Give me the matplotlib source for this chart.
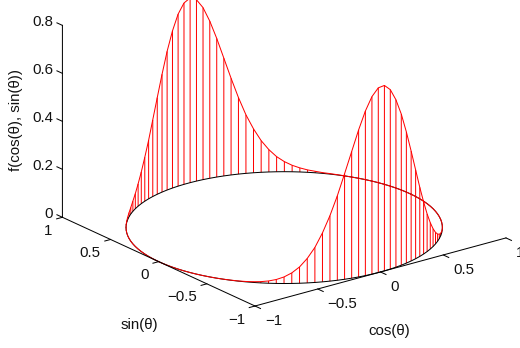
import matplotlib
matplotlib.use("Agg")
import numpy as np
import matplotlib.pyplot as plt
from mpl_toolkits.mplot3d import proj3d

plt.rcParams['font.family'] = ['Liberation Sans', 'DejaVu Sans']

# Heights, one per stem, going once round the circle
z_values = [
 0,0,0,0,0,0,0,0,0,0,0,
 .0005,.001,.002,.003,.006,.010,.017,.027,.042,.063,.093,.132,.183,.244,.319,.403,.491,.578,.655,.717,.756,
 .770,
 .756,.717,.655,.578,.491,.403,.319,.244,.183,.132,.093,.063,.042,.027,.017,.010,.006,.003,.002,.001,.0005,
 0,0,0,0,0,0,0,0,0,0,0,
 0,0,0,0,0,0,0,0,0,0,
 .0002,.0004,.0007,.0015,.0029,.0053,.0095,.0164,.0274,.044,.068,.102,.146,.204,.273,.352,.440,.528,.613,.686,.740,.770,
 .773,.748,.698,.630,.547,.458,.370,.288,.217,.157,.110,.074,.048,.030,.018,.011,.006,.003,.0017,.0008,.0004,.0002,
 0,0,0,0,0,0,0,0,0,0,
]
theta_start_deg = -1
cos_ticks = [-1, -0.5, 0, 0.5, 1]
sin_ticks = [-1, -0.5, 0, 0.5, 1]
z_ticks = [0, 0.2, 0.4, 0.6, 0.8]
cos_labels = ['\u22121', '\u22120.5', '0', '0.5', '1']
sin_labels = ['\u22121', '\u22120.5', '0', '0.5', '1']
z_labels = ['0', '0.2', '0.4', '0.6', '0.8']

W, H = 520, 348
z_arr = np.array(z_values)
theta = np.radians(theta_start_deg) + np.linspace(0, 2 * np.pi, len(z_arr))
xs, ys = np.cos(theta), np.sin(theta)

fig = plt.figure(figsize=(W / 100, H / 100), dpi=100)
ax = fig.add_axes([-0.1, -0.3, 1.2, 1.6], projection='3d')
ax.set_proj_type('ortho')
ax.view_init(elev=20.7, azim=-127.5)
ax.computed_zorder = False
aspect = (316.6, 316.6, 205.3)
ax.set_box_aspect(aspect)
ax.set_xlim(-1, 1); ax.set_ylim(-1, 1); ax.set_zlim(0, 0.8)
ax.set_axis_off()
ax.patch.set_alpha(0)


def to_px(c, s, z):
    x2, y2, _ = proj3d.proj_transform(c, s, z, ax.get_proj())
    return ax.transData.transform((x2, y2))

# scale and shift the axes so the corner (-1,-1,0) and the cos axis land as in the reference
fig.canvas.draw()
a, b = to_px(-1, -1, 0), to_px(1, -1, 0)
ax.set_box_aspect(aspect, zoom=260.05 / np.hypot(*(b - a)))
fig.canvas.draw()
a = to_px(-1, -1, 0)
pos = ax.get_position()
ax.set_position([pos.x0 + (255 - a[0]) / W, pos.y0 + ((H - 306) - a[1]) / H, pos.width, pos.height])
fig.canvas.draw()

LW = 0.72
for x, y, z in zip(xs, ys, z_arr):
    ax.plot([x, x], [y, y], [0, z], color='red', lw=LW, solid_capstyle='butt', snap=False)
ax.plot(xs, ys, np.zeros_like(xs), color='black', lw=LW)
ax.plot(xs, ys, z_arr, color='red', lw=LW)

K = 'black'
ax.plot([-1, 1], [-1, -1], [0, 0], color=K, lw=LW)
ax.plot([-1, -1], [-1, 1], [0, 0], color=K, lw=LW)
ax.plot([-1, -1], [1, 1], [0, 0.8], color=K, lw=LW, snap=False)
for t in cos_ticks:
    ax.plot([t, t], [-1, -1.057], [0, 0], color=K, lw=LW)
for t in sin_ticks:
    ax.plot([-1, -1.046], [t, t], [0, 0], color=K, lw=LW)
for t in z_ticks:
    ax.plot([-1, -1], [1, 1.057], [t, t], color=K, lw=LW)

FS = 10.8
def label(point, text, dx, dy, ha):
    x2, y2, _ = proj3d.proj_transform(*point, ax.get_proj())
    ax.annotate(text, xy=(x2, y2), xycoords='data', xytext=(dx, dy), textcoords='offset pixels',
                ha=ha, va='center', fontsize=FS, color='#111111', annotation_clip=False)

for t, s in zip(cos_ticks, cos_labels):
    label((t, -1, 0), s, 10, -15, 'left')
for t, s in zip(sin_ticks, sin_labels):
    label((-1, t, 0), s, -10, -13.5, 'right')
for t, s in zip(z_ticks, z_labels):
    label((-1, 1, t), s, -9.5, 3, 'right')

fig.text(389 / W, 1 - 331 / H, 'cos(\u03b8)', ha='center', va='center', fontsize=FS, color='#111111')
fig.text(139 / W, 1 - 325 / H, 'sin(\u03b8)', ha='center', va='center', fontsize=FS, color='#111111')
fig.text(16 / W, 1 - 120 / H, 'f(cos(\u03b8), sin(\u03b8))', rotation=90, ha='center', va='center',
         fontsize=FS, color='#111111')

fig.savefig('out.png', dpi=100)
